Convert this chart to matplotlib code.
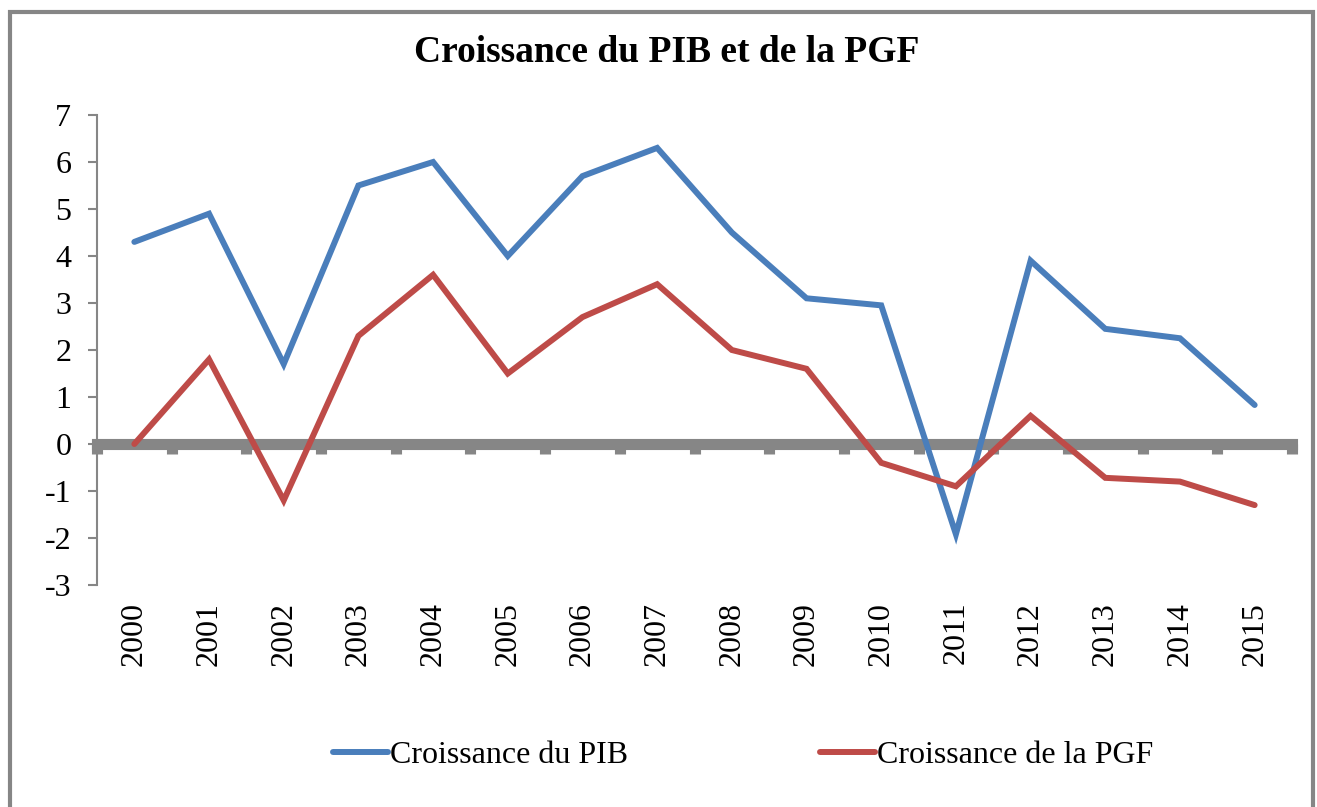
import matplotlib
matplotlib.use("Agg")
import matplotlib.pyplot as plt
from matplotlib.patches import Rectangle

years = ["2000", "2001", "2002", "2003", "2004", "2005", "2006", "2007",
         "2008", "2009", "2010", "2011", "2012", "2013", "2014", "2015"]
pib = [4.3, 4.9, 1.7, 5.5, 6.0, 4.0, 5.7, 6.3, 4.5, 3.1, 2.95, -1.92, 3.9, 2.45, 2.25, 0.83]
pgf = [0.0, 1.8, -1.2, 2.3, 3.6, 1.5, 2.7, 3.4, 2.0, 1.6, -0.4, -0.9, 0.6, -0.72, -0.8, -1.3]
yticks = [-3, -2, -1, 0, 1, 2, 3, 4, 5, 6, 7]

plt.rcParams['font.family'] = ['Liberation Serif', 'DejaVu Serif']
BLUE = "#4A7EBB"
RED = "#BE4B48"
GRAY = "#868686"
FS = 23

fig = plt.figure(figsize=(13.17, 8.07), dpi=100)
W, H = 1317, 807
ax = fig.add_axes([97 / W, 1 - 585 / H, (1292 - 97) / W, (585 - 115) / H])

x = list(range(len(years)))
l1, = ax.plot(x, pib, color=BLUE, lw=4.3, solid_joinstyle='miter', solid_capstyle='round',
              label="Croissance du PIB", zorder=3)
l2, = ax.plot(x, pgf, color=RED, lw=4.3, solid_joinstyle='miter', solid_capstyle='round',
              label="Croissance de la PGF", zorder=3)

ax.set_xlim(-0.5, len(years) - 0.5)
ax.set_ylim(-3, 7)
ax.set_yticks(yticks)
ax.set_yticklabels([str(v) for v in yticks], fontsize=FS)
ax.tick_params(axis='y', direction='out', length=6.5, width=1.5, color=GRAY, pad=12)

for s in ['top', 'right']:
    ax.spines[s].set_visible(False)
ax.spines['left'].set_color(GRAY)
ax.spines['left'].set_linewidth(1.5)

# category axis drawn at zero
ax.spines['bottom'].set_position(('data', 0))
ax.spines['bottom'].set_color(GRAY)
ax.spines['bottom'].set_linewidth(8)
ax.spines['bottom'].set_zorder(2)
ax.set_xticks([i - 0.5 for i in range(len(years) + 1)])
ax.tick_params(axis='x', direction='out', length=7, width=8, color=GRAY, labelbottom=False)

sec = ax.secondary_xaxis('bottom')
sec.set_xticks(x)
sec.set_xticklabels(years, rotation=90, fontsize=FS)
sec.tick_params(length=0, pad=12)
sec.spines['bottom'].set_visible(False)

fig.text(667 / W, 1 - 52 / H, "Croissance du PIB et de la PGF", ha='center', va='center',
         fontsize=27, fontweight='bold')

fig.legend(handles=[l1, l2], loc='center', bbox_to_anchor=(743 / W, 1 - 755 / H), ncol=2,
           frameon=False, fontsize=FS, handlelength=1.72, handletextpad=0.06, columnspacing=6.0)

fig.patches.append(Rectangle((10 / W, -0.05), (1313 - 10) / W, 1.05 - 12 / H,
                             transform=fig.transFigure, fill=False, edgecolor=GRAY,
                             linewidth=3, figure=fig))

fig.savefig("out.png", dpi=100)
